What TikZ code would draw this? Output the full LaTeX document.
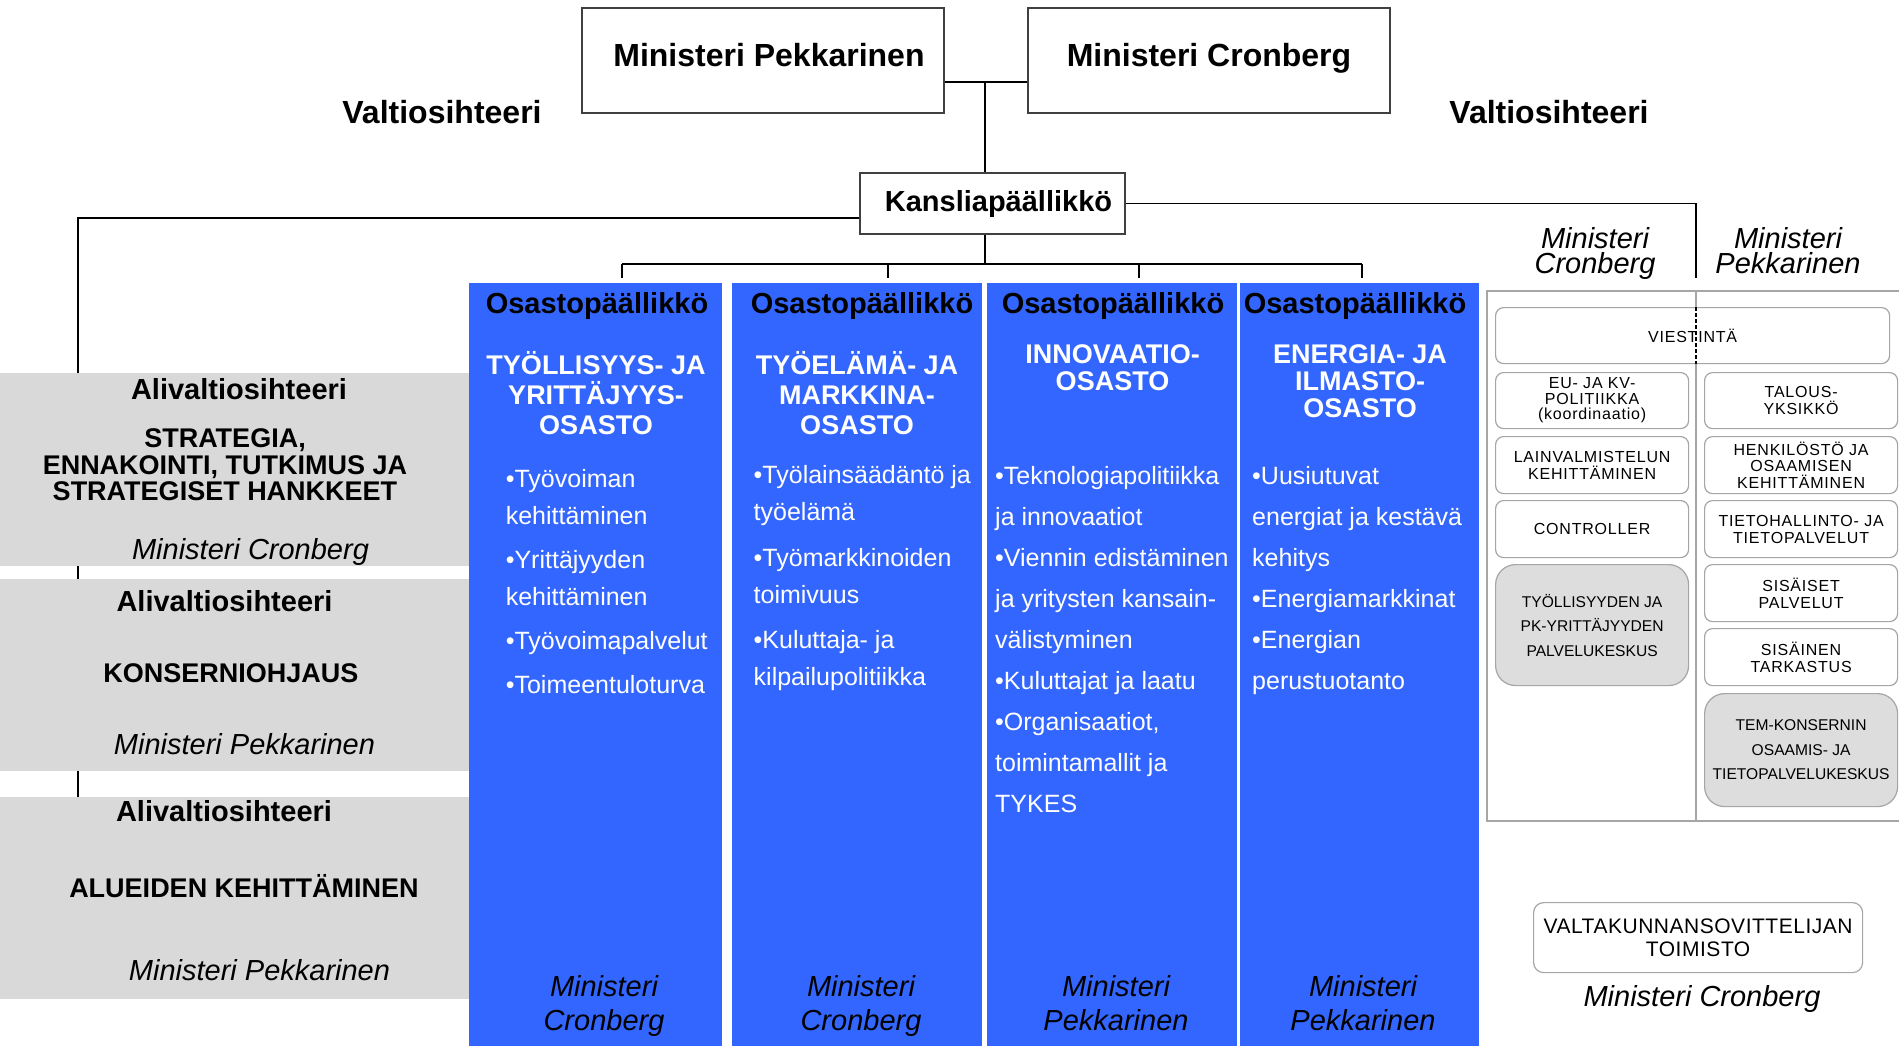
\documentclass[tikz,border=0pt]{standalone}
\usepackage{fontspec}
\setmainfont{Liberation Sans}
\newfontfamily\yksikkofont[LetterSpace=5]{Liberation Sans}
\newfontfamily\sovittelufont[LetterSpace=2.5]{Liberation Sans}

\definecolor{osastoblue}{RGB}{51,102,255}
\definecolor{aligray}{RGB}{217,217,217}
\definecolor{keskusgray}{RGB}{221,221,221}
\definecolor{viivagray}{RGB}{166,166,166}
\definecolor{reunagray}{RGB}{64,64,64}

\tikzset{
  yhteys/.style={black, line width=1.8pt},
  ministeri/.style={draw=reunagray, line width=2pt, fill=white, anchor=north west,
    minimum width=362pt, minimum height=105pt, inner sep=0pt,
    text height=23pt, text depth=10.5pt, font=\fontsize{32}{38}\selectfont\bfseries},
  kanslia/.style={draw=reunagray, line width=2pt, fill=white,
    minimum width=265pt, minimum height=61pt, inner sep=0pt,
    font=\fontsize{29}{34}\selectfont\bfseries},
  valtio/.style={anchor=base, inner sep=0pt, font=\fontsize{32}{38}\selectfont\bfseries},
  alival/.style={fill=aligray, anchor=north west, minimum width=469pt, inner sep=0pt},
  alitxt/.style={anchor=base, inner sep=0pt, font=\fontsize{29}{34}\selectfont\bfseries},
  aliosa/.style={anchor=base, inner sep=0pt, font=\fontsize{27}{26.5}\selectfont\bfseries},
  mininimi/.style={anchor=base, inner sep=0pt, font=\fontsize{29}{34}\selectfont\itshape},
  osasto/.style={fill=osastoblue, anchor=north west, minimum height=763pt, inner sep=0pt},
  paallikko/.style={anchor=base, inner sep=0pt, font=\fontsize{29}{34}\selectfont\bfseries},
  osastonimi/.style={anchor=north, inner sep=0pt, align=center, text=white,
    font=\fontsize{27}{30}\selectfont\bfseries},
  tehtavat/.style={anchor=north west, inner sep=0pt, align=left, text=white,
    font=\fontsize{25}{37}\selectfont},
  alamini/.style={anchor=north, inner sep=0pt, align=center,
    font=\fontsize{29}{33.5}\selectfont\itshape},
  paneeli/.style={draw=viivagray, line width=1.5pt},
  yksikko/.style={draw=viivagray, line width=1.2pt, fill=white, rounded corners=8pt,
    anchor=north west, minimum width=193pt, minimum height=57pt, inner sep=0pt,
    align=center, font=\yksikkofont\fontsize{16}{17}\selectfont},
  keskus/.style={yksikko, fill=keskusgray, rounded corners=20pt,
    font=\fontsize{15.6}{24.5}\selectfont}
}

\begin{document}
\begin{tikzpicture}[x=1pt, y=-1pt]
  \fill[white] (0,0) rectangle (1899,1045);
  \useasboundingbox (0,0) rectangle (1899,1045);

  % ministerit, valtiosihteerit ja kansliapaallikko
  \node[ministeri] (pek) at (581,7) {\hspace*{12pt}Ministeri Pekkarinen};
  \node[ministeri] (cro) at (1027,7) {Ministeri Cronberg};
  \node[valtio] (vs-vas) at (442,123) {Valtiosihteeri};
  \node[valtio] (vs-oik) at (1549,123) {Valtiosihteeri};
  \node[kanslia] (kans) at (992.5,203.5) {\hspace*{12pt}Kansliapäällikkö};

  \coordinate (mkesk) at (985,82);
  \draw[yhteys] (pek.east |- mkesk) -- (cro.west |- mkesk);
  \draw[yhteys] (mkesk) -- (mkesk |- kans.north);

  % alivaltiosihteerit
  \node[alival, minimum height=193pt] (strat) at (0,373) {};
  \node[alival, minimum height=192pt] (kons) at (0,579) {};
  \node[alival, minimum height=202pt] (alue) at (0,797) {};
  \coordinate (alilinja) at (78,218);
  \draw[yhteys] (kans.west |- alilinja) -- (alilinja) -- (alilinja |- strat.north);
  \draw[yhteys] (alilinja |- strat.south) -- (alilinja |- kons.north);
  \draw[yhteys] (alilinja |- kons.south) -- (alilinja |- alue.north);

  \node[alitxt] (strat-ali) at (239,399) {Alivaltiosihteeri};
  \node[aliosa, anchor=north, align=center] (strat-nimi) at (225,428.5)
    {STRATEGIA,\\ENNAKOINTI, TUTKIMUS JA\\STRATEGISET HANKKEET};
  \node[mininimi] (strat-min) at (250.5,559) {Ministeri Cronberg};
  \node[alitxt] (kons-ali) at (224.5,611) {Alivaltiosihteeri};
  \node[aliosa] (kons-nimi) at (231,682) {KONSERNIOHJAUS};
  \node[mininimi] (kons-min) at (244.5,754) {Ministeri Pekkarinen};
  \node[alitxt] (alue-ali) at (224,821) {Alivaltiosihteeri};
  \node[aliosa] (alue-nimi) at (244,897) {ALUEIDEN KEHITTÄMINEN};
  \node[mininimi] (alue-min) at (259.5,980) {Ministeri Pekkarinen};

  % osastot
  \node[osasto, minimum width=253pt] (tyo) at (469,283) {};
  \node[osasto, minimum width=250pt] (mark) at (732,283) {};
  \node[osasto, minimum width=250pt] (inno) at (987,283) {};
  \node[osasto, minimum width=239pt] (ener) at (1240,283) {};

  \coordinate (palkki) at (985,264);
  \draw[yhteys] (mkesk |- kans.south) -- (palkki);
  \foreach \osa/\x in {tyo/622, mark/888, inno/1139, ener/1362}{
    \coordinate (\osa-liitos) at (\x,264);
    \draw[yhteys, shorten >=5pt] (\osa-liitos) -- (\osa-liitos |- \osa.north);
  }
  \draw[yhteys] (tyo-liitos) -- (ener-liitos);

  \node[paallikko] (tyo-pl) at (597,313.5) {Osastopäällikkö};
  \node[osastonimi] (tyo-nimi) at (596,350.8) {TYÖLLISYYS- JA\\YRITTÄJYYS-\\OSASTO};
  \node[tehtavat] (tyo-teht) at (505.6,469.4)
    {•Työvoiman\\kehittäminen\\[7pt]•Yrittäjyyden\\kehittäminen\\[7pt]•Työvoimapalvelut\\[7pt]•Toimeentuloturva};
  \node[alamini] (tyo-min) at (604,975.7) {Ministeri\\Cronberg};

  \node[paallikko] (mark-pl) at (862,313.5) {Osastopäällikkö};
  \node[osastonimi] (mark-nimi) at (857,350.8) {TYÖELÄMÄ- JA\\MARKKINA-\\OSASTO};
  \node[tehtavat] (mark-teht) at (753.5,465.4)
    {•Työlainsäädäntö ja\\työelämä\\[8.5pt]•Työmarkkinoiden\\toimivuus\\[8.5pt]•Kuluttaja- ja\\kilpailupolitiikka};
  \node[alamini] (mark-min) at (861,975.7) {Ministeri\\Cronberg};

  \node[paallikko] (inno-pl) at (1113,313.5) {Osastopäällikkö};
  \node[osastonimi, font=\fontsize{27}{27}\selectfont\bfseries] (inno-nimi) at (1112.5,344.3)
    {INNOVAATIO-\\OSASTO};
  \node[tehtavat, font=\fontsize{25}{41}\selectfont] (inno-teht) at (995,465.7)
    {•Teknologiapolitiikka\\ja innovaatiot\\•Viennin edistäminen\\ja yritysten kansain-\\välistyminen\\•Kuluttajat ja laatu\\•Organisaatiot,\\toimintamallit ja\\TYKES};
  \node[alamini] (inno-min) at (1116,975.7) {Ministeri\\Pekkarinen};

  \node[paallikko] (ener-pl) at (1355,313.5) {Osastopäällikkö};
  \node[osastonimi, font=\fontsize{27}{27}\selectfont\bfseries] (ener-nimi) at (1360,344.3)
    {ENERGIA- JA\\ILMASTO-\\OSASTO};
  \node[tehtavat, font=\fontsize{25}{41}\selectfont] (ener-teht) at (1252,465.7)
    {•Uusiutuvat\\energiat ja kestävä\\kehitys\\•Energiamarkkinat\\•Energian\\perustuotanto};
  \node[alamini] (ener-min) at (1363,975.7) {Ministeri\\Pekkarinen};

  % esikunta
  \coordinate (jako) at (1696,278);
  \draw[yhteys] (kans.east) -| (jako);
  \node[alamini, font=\fontsize{29}{25}\selectfont\itshape] (pan-cro) at (1595,227.3) {Ministeri\\Cronberg};
  \node[alamini, font=\fontsize{29}{25}\selectfont\itshape] (pan-pek) at (1788,227.3) {Ministeri\\Pekkarinen};

  \draw[paneeli] (1899,291) -| (1487,821) -- (1899,821);
  \coordinate (paneeli-yla) at (1696,291);
  \coordinate (paneeli-ala) at (1696,821);
  \draw[paneeli] (paneeli-yla) -- (paneeli-ala);

  \node[yksikko, minimum width=394pt, minimum height=56pt] (viest) at (1495,307) {VIESTINTÄ};
  \draw[black, line width=1.2pt, dash pattern=on 4pt off 2pt] (viest.north -| jako) -- (viest.south -| jako);

  \node[yksikko, minimum height=56pt, font=\yksikkofont\fontsize{16}{15.5}\selectfont] (eu) at (1495,372)
    {EU- JA KV-\\POLITIIKKA\\(koordinaatio)};
  \node[yksikko] (lain) at (1495,436) {LAINVALMISTELUN\\KEHITTÄMINEN};
  \node[yksikko] (contr) at (1495,500) {CONTROLLER};
  \node[keskus, minimum height=121pt] (pkkeskus) at (1495,564) {TYÖLLISYYDEN JA\\PK-YRITTÄJYYDEN\\PALVELUKESKUS};

  \node[yksikko, minimum height=56pt] (talous) at (1704,372) {TALOUS-\\YKSIKKÖ};
  \node[yksikko, font=\yksikkofont\fontsize{16}{16.5}\selectfont] (henk) at (1704,436)
    {HENKILÖSTÖ JA\\OSAAMISEN\\KEHITTÄMINEN};
  \node[yksikko] (tieto) at (1704,500) {TIETOHALLINTO- JA\\TIETOPALVELUT};
  \node[yksikko] (sispal) at (1704,564) {SISÄISET\\PALVELUT};
  \node[yksikko] (sistark) at (1704,628) {SISÄINEN\\TARKASTUS};
  \node[keskus, minimum height=113pt] (temkeskus) at (1704,693) {TEM-KONSERNIN\\OSAAMIS- JA\\TIETOPALVELUKESKUS};

  \node[yksikko, rounded corners=10pt, minimum width=329pt, minimum height=70pt,
    font=\sovittelufont\fontsize{21}{23.5}\selectfont] (valta) at (1533,902)
    {VALTAKUNNANSOVITTELIJAN\\TOIMISTO};
  \node[mininimi] (valta-min) at (1702,1006.7) {Ministeri Cronberg};
\end{tikzpicture}
\end{document}
